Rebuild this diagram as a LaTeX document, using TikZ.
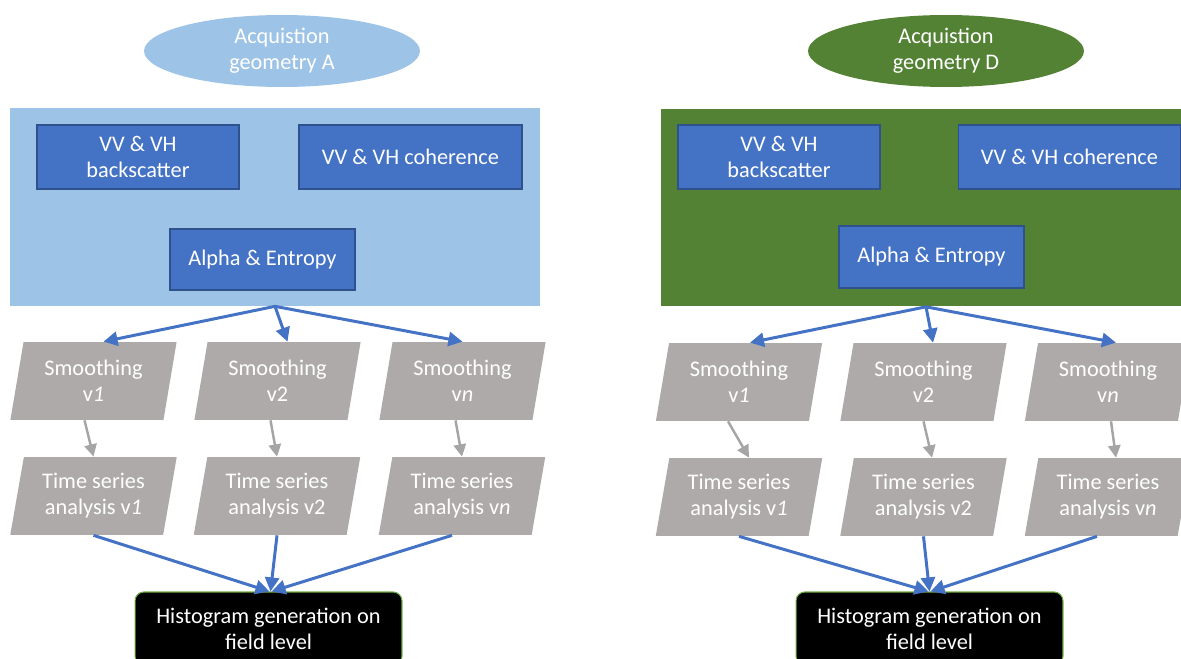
\documentclass[tikz,border=0pt]{standalone}
\usepackage{fontspec}
\setmainfont{Carlito}
\usetikzlibrary{shapes.geometric,arrows.meta,calc}
\definecolor{lblue}{HTML}{9DC3E6}
\definecolor{mblue}{HTML}{4472C4}
\definecolor{dblue}{HTML}{2F528F}
\definecolor{dgreen}{HTML}{548235}
\definecolor{pgray}{HTML}{AEAAAA}
\definecolor{agray}{HTML}{A5A5A5}
\definecolor{hborder}{HTML}{70AD47}
\begin{document}
\begin{tikzpicture}[x=0.02cm,y=-0.02cm,
  every node/.style={font=\fontsize{12.7}{14.9}\selectfont, text=white, align=center, inner sep=0pt},
  geo/.style={ellipse, minimum width=5.52cm, minimum height=1.44cm},
  panel/.style={rectangle, minimum height=3.96cm},
  bbox/.style={rectangle, fill=mblue, draw=dblue, line width=0.6pt, minimum height=1.28cm},
  para/.style={trapezium, trapezium left angle=77.5, trapezium right angle=102.5, trapezium stretches=true,
     fill=pgray, minimum width=3.34cm, minimum height=1.56cm},
  hist/.style={rectangle, rounded corners=5pt, fill=black, draw=hborder, line width=0.6pt,
     minimum width=5.34cm, minimum height=1.46cm},
  barrow/.style={draw=mblue, line width=1.7pt, -{Triangle[length=8pt,width=8pt]}},
  garrow/.style={draw=agray, line width=1.4pt, -{Triangle[length=7pt,width=7pt]}},
]
\useasboundingbox (0,0) rectangle (1181,659);
\clip (0,0) rectangle (1181,659);

% ---------- Left: geometry A ----------
\node[geo, fill=lblue] (ellA) at (282,51) {Acquistion\\geometry A};
\node[panel, fill=lblue, minimum width=10.6cm] (bgA) at (275,207) {};
\node[bbox, minimum width=4.04cm] (bsA) at (138,157) {VV \& VH\\backscatter};
\node[bbox, minimum width=4.46cm] (coA) at (410.5,157) {VV \& VH coherence};
\node[bbox, minimum width=3.7cm, minimum height=1.22cm] (aeA) at (262.5,259.5) {Alpha \& Entropy};

\node[para] (s1A) at (93.5,381) {Smoothing\\v\textit{1}};
\node[para] (s2A) at (277.5,381) {Smoothing\\v2};
\node[para] (s3A) at (462.5,381) {Smoothing\\v\textit{n}};
\node[para] (t1A) at (93.5,496) {Time series\\analysis v\textit{1}};
\node[para] (t2A) at (277,496) {Time series\\analysis v2};
\node[para] (t3A) at (462,496) {Time series\\analysis v\textit{n}};
\node[hist] (hA) at (268.5,628.5) {Histogram generation on\\field level};

\draw[barrow] (bgA.south) -- ([xshift=0.2cm]s1A.north);
\draw[barrow] (bgA.south) -- ([xshift=0.2cm]s2A.north);
\draw[barrow] (bgA.south) -- (s3A.north);
\draw[garrow] ([xshift=-0.18cm]s1A.south) -- (t1A.north);
\draw[garrow] ([xshift=-0.14cm]s2A.south) -- (t2A.north);
\draw[garrow] ([xshift=-0.14cm]s3A.south) -- (t3A.north);
\draw[barrow] (t1A.south) -- ([xshift=0.02cm]hA.north);
\draw[barrow] (t2A.south) -- ([xshift=0.04cm]hA.north);
\draw[barrow] ([xshift=-0.2cm]t3A.south) -- ([xshift=0.06cm]hA.north);

% ---------- Right: geometry D ----------
\node[geo, fill=dgreen] (ellD) at (946,51) {Acquistion\\geometry D};
\node[panel, fill=dgreen, minimum width=10.78cm] (bgD) at (930.5,207.5) {};
\node[bbox, minimum width=4.04cm] (bsD) at (779,157) {VV \& VH\\backscatter};
\node[bbox, minimum width=4.46cm] (coD) at (1069.5,157) {VV \& VH coherence};
\node[bbox, minimum width=3.7cm, minimum height=1.24cm] (aeD) at (931.5,257) {Alpha \& Entropy};

\node[para] (s1D) at (739,382) {Smoothing\\v\textit{1}};
\node[para] (s2D) at (923.5,382) {Smoothing\\v2};
\node[para] (s3D) at (1108,382) {Smoothing\\v\textit{n}};
\node[para] (t1D) at (739,497) {Time series\\analysis v\textit{1}};
\node[para] (t2D) at (923.5,497) {Time series\\analysis v2};
\node[para] (t3D) at (1108,497) {Time series\\analysis v\textit{n}};
\node[hist] (hD) at (929.5,628.5) {Histogram generation on\\field level};

\draw[barrow] ([xshift=-0.09cm]bgD.south) -- ([xshift=0.22cm]s1D.north);
\draw[barrow] ([xshift=-0.09cm]bgD.south) -- ([xshift=0.19cm]s2D.north);
\draw[barrow] ([xshift=-0.09cm]bgD.south) -- ([xshift=0.16cm]s3D.north);
\draw[garrow] ([xshift=-0.22cm]s1D.south) -- ([xshift=0.2cm]t1D.north);
\draw[garrow] ([xshift=0cm]s2D.south) -- ([xshift=0.17cm]t2D.north);
\draw[garrow] ([xshift=0.06cm]s3D.south) -- ([xshift=0.16cm]t3D.north);
\draw[barrow] (t1D.south) -- ([xshift=-0.02cm]hD.north);
\draw[barrow] (t2D.south) -- (hD.north);
\draw[barrow] ([xshift=-0.22cm]t3D.south) -- ([xshift=0.02cm]hD.north);
\end{tikzpicture}
\end{document}
